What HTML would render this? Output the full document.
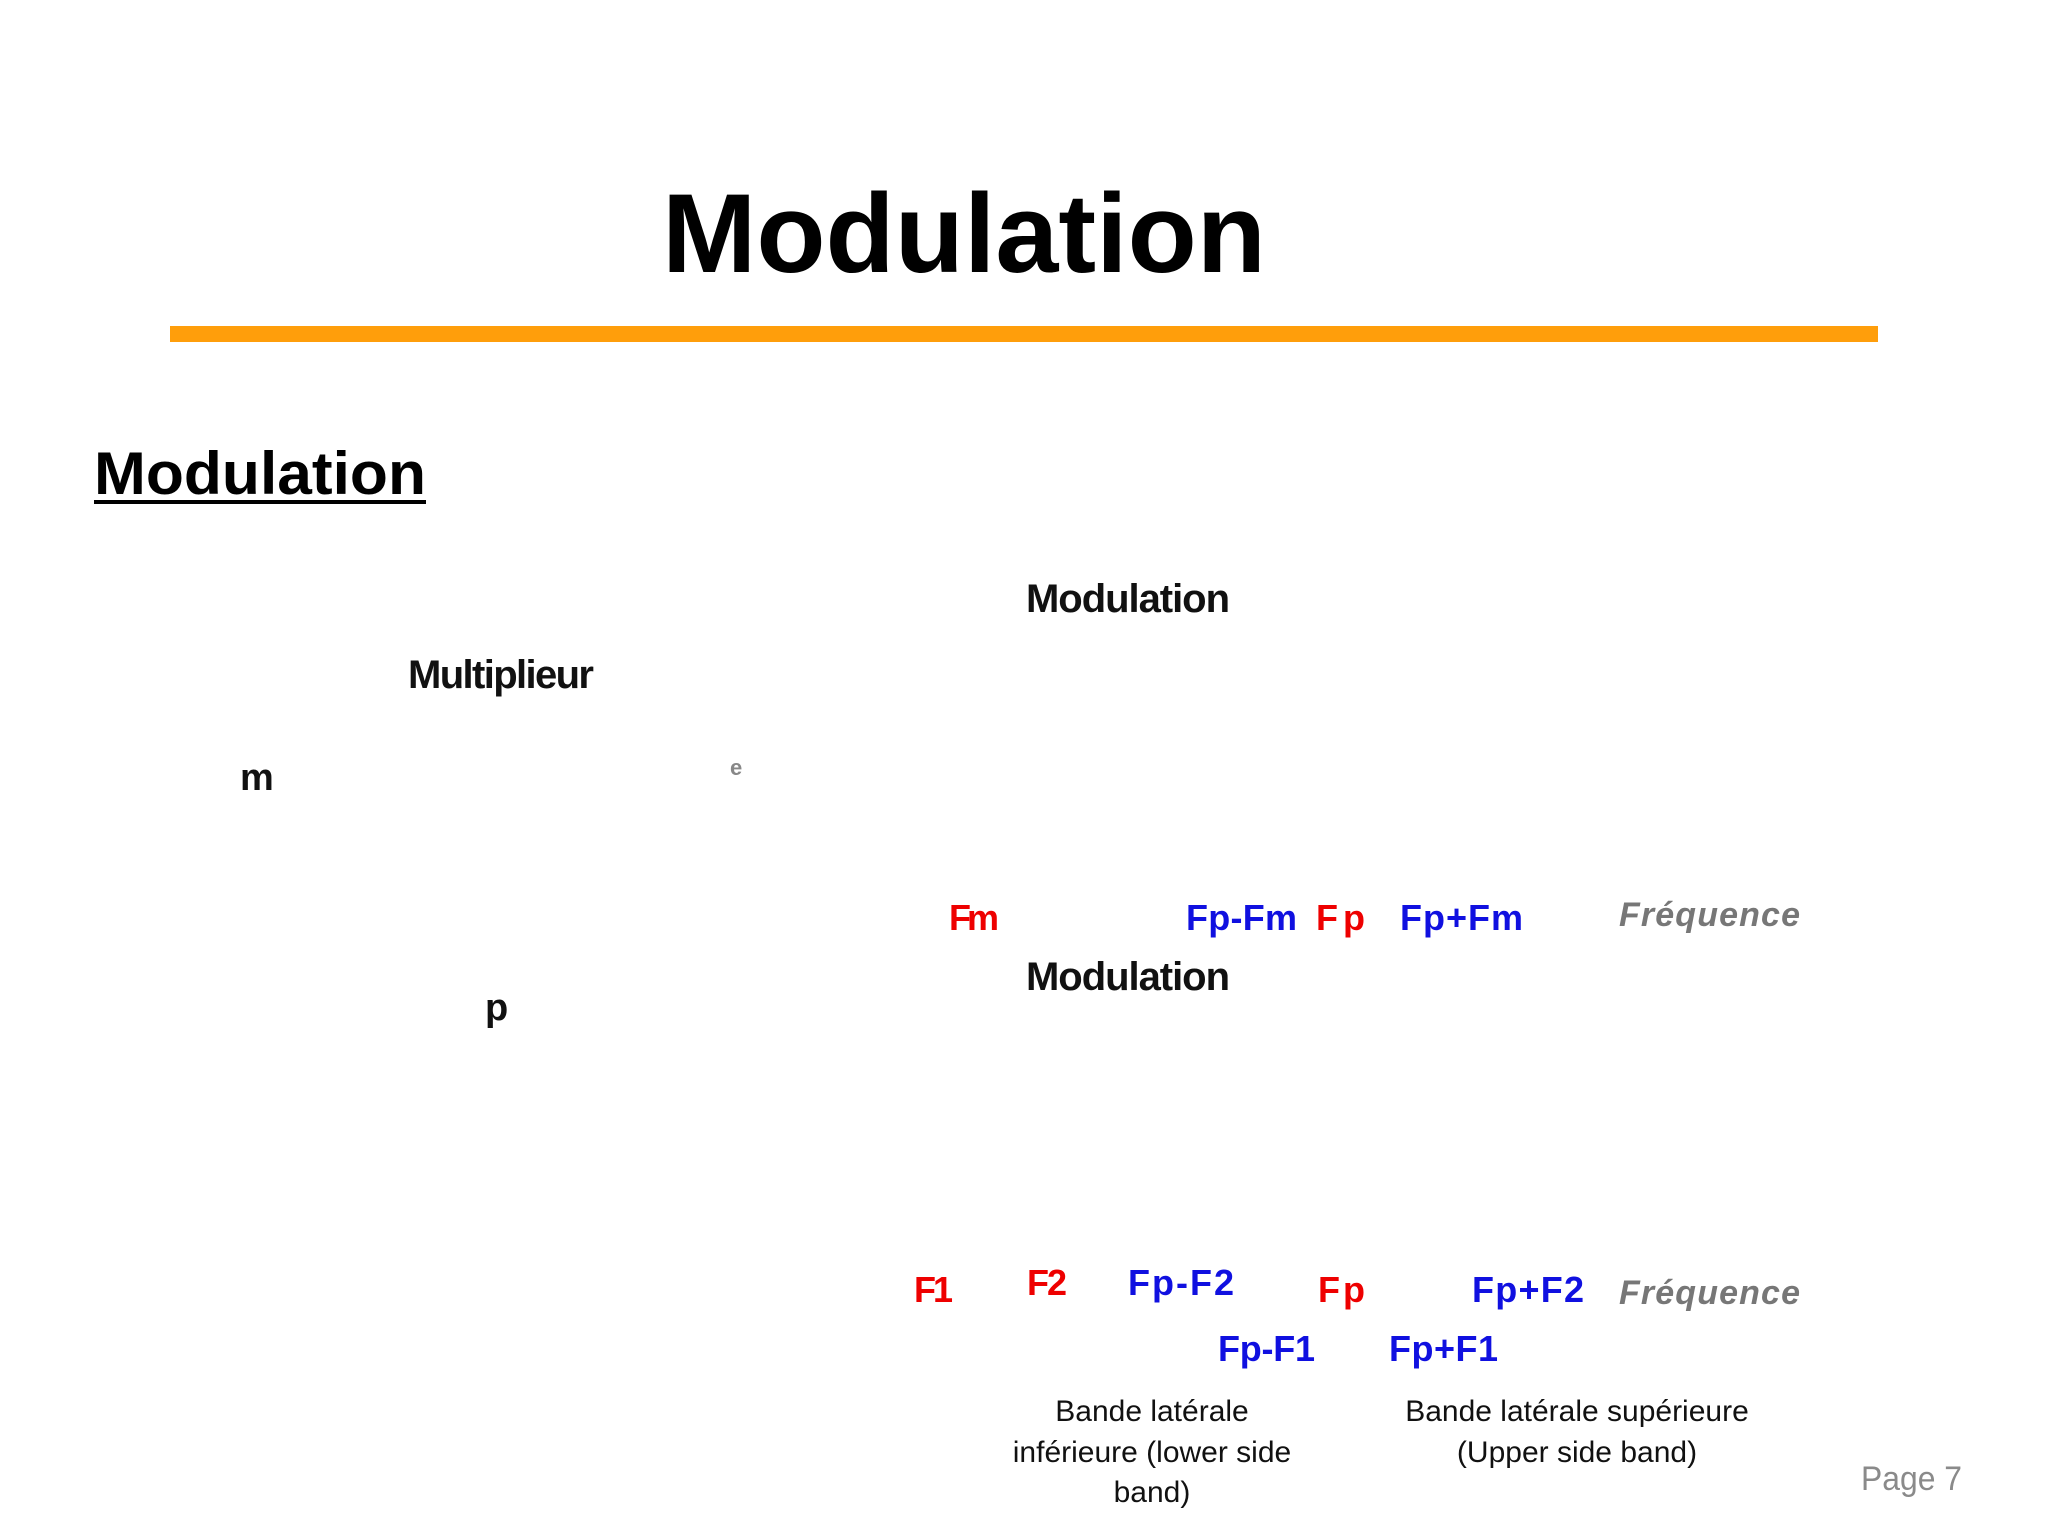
<!DOCTYPE html>
<html><head><meta charset="utf-8"><style>
html,body{margin:0;padding:0;background:#fff;}
svg{display:block;}
</style></head><body>
<svg width="2048" height="1536" viewBox="0 0 2048 1536" xmlns="http://www.w3.org/2000/svg">
<rect width="2048" height="1536" fill="#fff"/>
<text x="662" y="272" font-family="Liberation Sans, sans-serif" font-weight="bold" font-size="112" textLength="604" lengthAdjust="spacingAndGlyphs" fill="#000">Modulation</text>
<rect x="170" y="326" width="1708" height="16" fill="#ff9e0b"/>
<text x="94" y="494" font-family="Liberation Sans, sans-serif" font-weight="bold" font-size="60" textLength="332" lengthAdjust="spacingAndGlyphs" fill="#000">Modulation</text>
<rect x="94" y="500" width="332" height="4" fill="#000"/>
<g font-family="Liberation Sans, sans-serif" font-weight="bold" lengthAdjust="spacingAndGlyphs">
<text x="1026" y="612" font-size="40" textLength="204" fill="#111">Modulation</text>
<text x="408" y="688" font-size="40" textLength="186" fill="#111">Multiplieur</text>
<text x="240" y="790" font-size="38" textLength="32" fill="#111">m</text>
<text x="730" y="775" font-size="22" textLength="14" fill="#888">e</text>
<text x="485" y="1020" font-size="38" textLength="20" fill="#111">p</text>
<text x="1026" y="990" font-size="40" textLength="204" fill="#111">Modulation</text>
<text x="949" y="930" font-size="36" textLength="50" fill="#e00">Fm</text>
<text x="1186" y="930" font-size="36" textLength="111" fill="#1010e0">Fp-Fm</text>
<text x="1316" y="930" font-size="36" textLength="49" fill="#e00">Fp</text>
<text x="1400" y="930" font-size="36" textLength="123" fill="#1010e0">Fp+Fm</text>
<text x="1619" y="926" font-size="34" font-style="italic" textLength="181" fill="#777">Fréquence</text>
<text x="914" y="1302" font-size="36" textLength="39" fill="#e00">F1</text>
<text x="1027" y="1295" font-size="36" textLength="40" fill="#e00">F2</text>
<text x="1128" y="1295" font-size="36" textLength="106" fill="#1010e0">Fp-F2</text>
<text x="1318" y="1302" font-size="36" textLength="47" fill="#e00">Fp</text>
<text x="1472" y="1302" font-size="36" textLength="112" fill="#1010e0">Fp+F2</text>
<text x="1619" y="1304" font-size="34" font-style="italic" textLength="181" fill="#777">Fréquence</text>
<text x="1218" y="1361" font-size="36" textLength="97" fill="#1010e0">Fp-F1</text>
<text x="1389" y="1361" font-size="36" textLength="109" fill="#1010e0">Fp+F1</text>
</g>
<g font-family="Liberation Sans, sans-serif" font-size="30" fill="#111" text-anchor="middle">
<text x="1152" y="1421">Bande latérale</text>
<text x="1152" y="1462">inférieure (lower side</text>
<text x="1152" y="1502">band)</text>
<text x="1577" y="1421">Bande latérale supérieure</text>
<text x="1577" y="1462">(Upper side band)</text>
</g>
<text x="1861" y="1490" font-family="Liberation Sans, sans-serif" font-size="34" fill="#8a8a8a" textLength="101" lengthAdjust="spacingAndGlyphs">Page 7</text>
</svg>
</body></html>
